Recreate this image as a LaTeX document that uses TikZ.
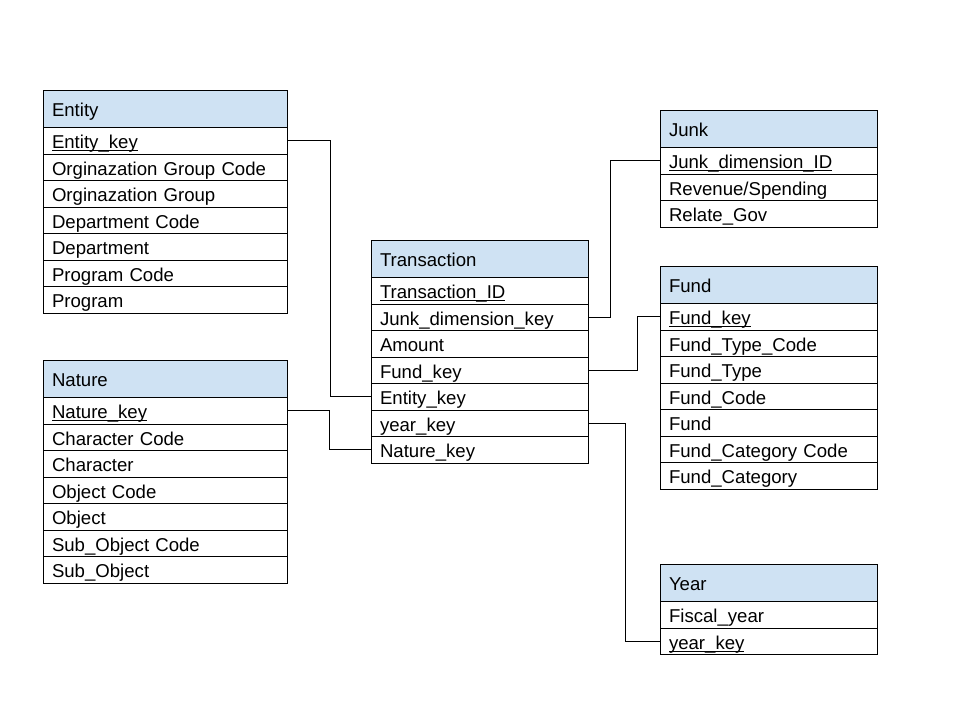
\documentclass[tikz,border=0pt]{standalone}
\usepackage{fontspec}
\setmainfont{Liberation Sans}
\usetikzlibrary{positioning}
\definecolor{headblue}{HTML}{CFE2F3}
\newcommand{\pk}[1]{\setbox0\hbox{#1}\rlap{\rule[-2.4pt]{\wd0}{0.9pt}}\box0}

\begin{document}
\begin{tikzpicture}[x=1pt,y=-1pt,node distance=0pt,line width=0.9pt,
                    field/.style={draw,outer sep=0pt,inner xsep=9pt,inner ysep=0pt,
                      align=left,text height=16pt,text depth=0pt,minimum height=26.5pt,
                      font=\fontsize{18.6}{22}\selectfont},
                    wide/.style={field,text width=226pt},
                    narrow/.style={field,text width=199pt},
                    head/.style={fill=headblue,minimum height=37.5pt,anchor=north west}]
  \useasboundingbox (0,0) rectangle (960,720);
  % Entity
  \node[wide,head] (e0) at (43,90) {Entity};
  \node[wide] (e1) [below=of e0] {\pk{Entity\_key}};
  \node[wide] (e2) [below=of e1] {Orginazation Group Code};
  \node[wide] (e3) [below=of e2] {Orginazation Group};
  \node[wide] (e4) [below=of e3] {Department Code};
  \node[wide] (e5) [below=of e4] {Department};
  \node[wide] (e6) [below=of e5] {Program Code};
  \node[wide] (e7) [below=of e6] {Program};
  % Nature
  \node[wide,head] (n0) at (43,360) {Nature};
  \node[wide] (n1) [below=of n0] {\pk{Nature\_key}};
  \node[wide] (n2) [below=of n1] {Character Code};
  \node[wide] (n3) [below=of n2] {Character};
  \node[wide] (n4) [below=of n3] {Object Code};
  \node[wide] (n5) [below=of n4] {Object};
  \node[wide] (n6) [below=of n5] {Sub\_Object Code};
  \node[wide] (n7) [below=of n6] {Sub\_Object};
  % Transaction
  \node[narrow,head] (t0) at (371,240) {Transaction};
  \node[narrow] (t1) [below=of t0] {\pk{Transaction\_ID}};
  \node[narrow] (t2) [below=of t1] {Junk\_dimension\_key};
  \node[narrow] (t3) [below=of t2] {Amount};
  \node[narrow] (t4) [below=of t3] {Fund\_key};
  \node[narrow] (t5) [below=of t4] {Entity\_key};
  \node[narrow] (t6) [below=of t5] {year\_key};
  \node[narrow] (t7) [below=of t6] {Nature\_key};
  % Junk
  \node[narrow,head] (j0) at (660,110) {Junk};
  \node[narrow] (j1) [below=of j0] {\pk{Junk\_dimension\_ID}};
  \node[narrow] (j2) [below=of j1] {Revenue/Spending};
  \node[narrow] (j3) [below=of j2] {Relate\_Gov};
  % Fund
  \node[narrow,head] (f0) at (660,266) {Fund};
  \node[narrow] (f1) [below=of f0] {\pk{Fund\_key}};
  \node[narrow] (f2) [below=of f1] {Fund\_Type\_Code};
  \node[narrow] (f3) [below=of f2] {Fund\_Type};
  \node[narrow] (f4) [below=of f3] {Fund\_Code};
  \node[narrow] (f5) [below=of f4] {Fund};
  \node[narrow] (f6) [below=of f5] {Fund\_Category Code};
  \node[narrow] (f7) [below=of f6] {Fund\_Category};
  % Year
  \node[narrow,head] (yr0) at (660,564) {Year};
  \node[narrow] (yr1) [below=of yr0] {Fiscal\_year};
  \node[narrow] (yr2) [below=of yr1] {\pk{year\_key}};
  % links
  \draw (e1.east) -- ++(43,0) |- (t5.west);
  \draw (n1.east) -- ++(42,0) |- (t7.west);
  \draw (t2.east) -- ++(22,0) |- (j1.west);
  \draw (t4.east) -- ++(49,0) |- (f1.west);
  \draw (t6.east) -- ++(37,0) |- (yr2.west);
\end{tikzpicture}
\end{document}
